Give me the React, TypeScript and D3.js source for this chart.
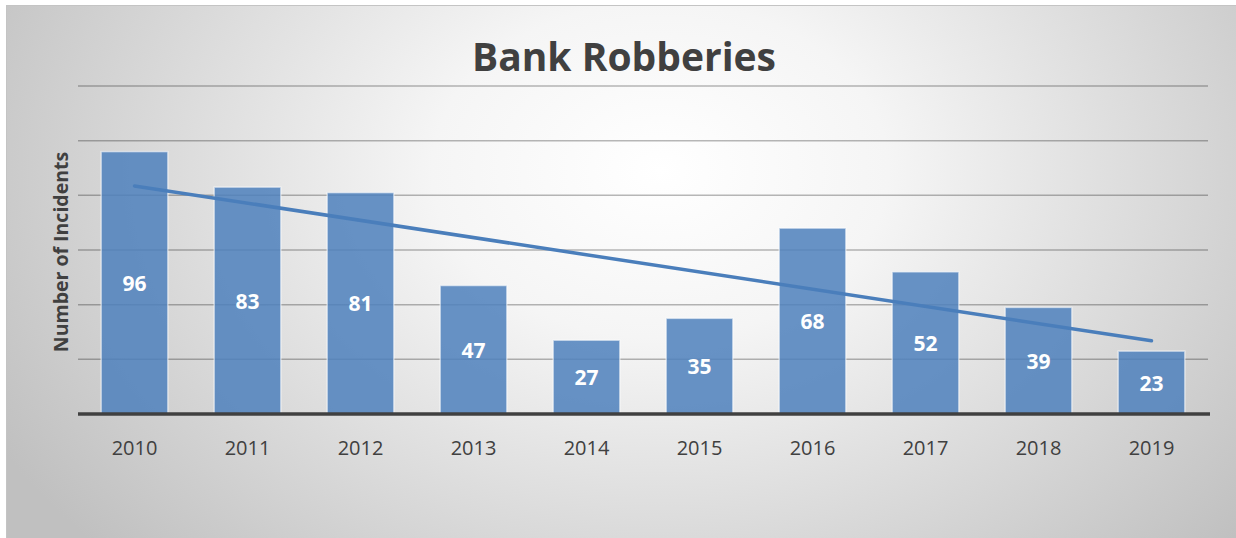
import React from "react";
import * as d3 from "d3";

const years = ["2010", "2011", "2012", "2013", "2014", "2015", "2016", "2017", "2018", "2019"];
const robberies = [96, 83, 81, 47, 27, 35, 68, 52, 39, 23];
const yTicks = [0, 20, 40, 60, 80, 100, 120];
const title = "Bank Robberies";
const yTitle = "Number of Incidents";

const W = 1236;
const H = 538;
const FONT = "'Open Sans', Lato, sans-serif";

export default function App() {
  const x = d3.scaleBand<string>().domain(years).range([78, 1208]).paddingInner(0.41).paddingOuter(0.205);
  const y = d3.scaleLinear().domain([0, 120]).range([414, 86]);

  // linear trendline via least squares
  const n = robberies.length;
  const xs = robberies.map((_, i) => i);
  const mx = d3.mean(xs) as number;
  const my = d3.mean(robberies) as number;
  const sxy = d3.sum(xs.map((xi, i) => (xi - mx) * (robberies[i] - my)));
  const sxx = d3.sum(xs.map((xi) => (xi - mx) * (xi - mx)));
  const slope = sxy / sxx;
  const intercept = my - slope * mx;
  const trend = [0, n - 1].map((i) => [
    (x(years[i]) as number) + x.bandwidth() / 2,
    y(intercept + slope * i),
  ] as [number, number]);
  const line = d3.line();

  return (
    <svg width={W} height={H} style={{ position: "absolute", left: 0, top: 0 }}>
      <defs>
        <radialGradient
          id="bg"
          gradientUnits="userSpaceOnUse"
          cx={0}
          cy={0}
          r={1}
          gradientTransform="translate(660,170) scale(760,560)"
        >
          <stop offset="0" stopColor="#ffffff" />
          <stop offset="0.3" stopColor="#f5f5f5" />
          <stop offset="1" stopColor="#c0c0c0" />
        </radialGradient>
      </defs>
      <rect x={0} y={0} width={W} height={H} fill="#ffffff" />
      <rect x={6.5} y={5.5} width={W - 6} height={H - 5} fill="url(#bg)" stroke="#c4c4c4" strokeWidth={1} />

      <text x={624} y={71} textAnchor="middle" fontFamily={FONT} fontWeight={700} fontSize={39} fill="#404040">
        {title}
      </text>

      {yTicks.filter((t) => t > 0).map((t) => (
        <line key={t} x1={78} x2={1208} y1={y(t)} y2={y(t)} stroke="rgba(0,0,0,0.28)" strokeWidth={1.5} />
      ))}

      {robberies.map((v, i) => (
        <rect
          key={years[i]}
          x={x(years[i]) as number}
          y={y(v)}
          width={x.bandwidth()}
          height={y(0) - y(v)}
          fill="#4f81bd"
          fillOpacity={0.86}
          stroke="rgba(255,255,255,0.55)"
          strokeWidth={1.5}
        />
      ))}

      <line x1={78} x2={1210} y1={y(0)} y2={y(0)} stroke="#404040" strokeWidth={3.5} />

      <path d={line(trend) as string} stroke="#4a7ebb" strokeWidth={3.5} strokeLinecap="round" fill="none" />

      {robberies.map((v, i) => (
        <text
          key={"l" + years[i]}
          x={(x(years[i]) as number) + x.bandwidth() / 2}
          y={(y(v) + y(0)) / 2 + 8}
          textAnchor="middle"
          fontFamily={FONT}
          fontWeight={700}
          fontSize={21}
          fill="#ffffff"
        >
          {v}
        </text>
      ))}

      {years.map((yr) => (
        <text
          key={"x" + yr}
          x={(x(yr) as number) + x.bandwidth() / 2}
          y={455}
          textAnchor="middle"
          fontFamily={FONT}
          fontSize={20}
          fill="#404040"
        >
          {yr}
        </text>
      ))}

      <text
        transform={`translate(68,252) rotate(-90)`}
        textAnchor="middle"
        fontFamily={FONT}
        fontWeight={700}
        fontSize={19.5}
        fill="#404040"
      >
        {yTitle}
      </text>
    </svg>
  );
}
